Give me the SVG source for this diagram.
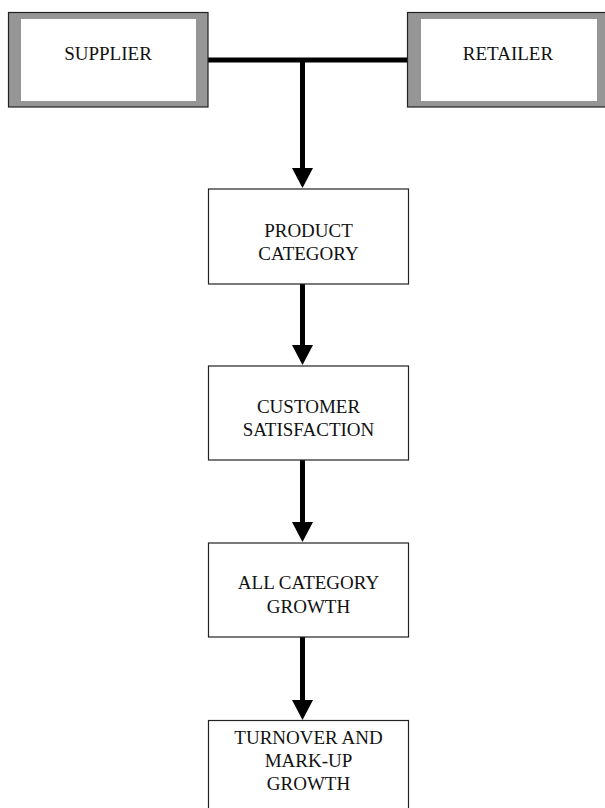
<svg xmlns="http://www.w3.org/2000/svg" width="605" height="808" viewBox="0 0 605 808">
<style>
text{font-family:"Liberation Serif","Times New Roman",serif;font-size:19px;fill:#111;text-anchor:middle}
.frame{fill:#969696;stroke:#222;stroke-width:1.2}
.inner{fill:#fff;stroke:none}
.box{fill:#fff;stroke:#222;stroke-width:1.2}
.line{stroke:#000;stroke-width:5;fill:none}
</style>
<defs>
<marker id="ah" markerUnits="userSpaceOnUse" markerWidth="22" markerHeight="21" refX="11" refY="20" orient="auto" viewBox="0 0 22 21">
<path d="M0,0 L22,0 L11,21 Z" fill="#000" transform="rotate(0)"/>
</marker>
</defs>
<rect width="605" height="808" fill="#fff"/>
<g id="connectors">
<path class="line" d="M208,60 H407"/>
<path d="M302.5,60 V170" class="line"/>
<path d="M292,168 L313,168 L302.5,188 Z" fill="#000"/>
<path d="M302.5,284 V347" class="line"/>
<path d="M292,345 L313,345 L302.5,365 Z" fill="#000"/>
<path d="M302.5,460 V524" class="line"/>
<path d="M292,522 L313,522 L302.5,542 Z" fill="#000"/>
<path d="M302.5,637 V702" class="line"/>
<path d="M292,700 L313,700 L302.5,720 Z" fill="#000"/>
</g>
<g id="supplier">
<rect class="frame" x="8.5" y="12.5" width="199.5" height="94.5"/>
<rect class="inner" x="21" y="19" width="175" height="82"/>
<text x="108" y="60">SUPPLIER</text>
</g>
<g id="retailer">
<rect class="frame" x="407.5" y="12.5" width="200" height="94.5"/>
<rect class="inner" x="421" y="19" width="176" height="82"/>
<text x="508" y="60">RETAILER</text>
</g>
<g id="product-category">
<rect class="box" x="208.5" y="189" width="200" height="95"/>
<text x="308.5" y="237">PRODUCT</text>
<text x="308.5" y="260">CATEGORY</text>
</g>
<g id="customer-satisfaction">
<rect class="box" x="208.5" y="366" width="200" height="94"/>
<text x="308.5" y="413">CUSTOMER</text>
<text x="308.5" y="436">SATISFACTION</text>
</g>
<g id="all-category-growth">
<rect class="box" x="208.5" y="543" width="200" height="94"/>
<text x="308.5" y="589">ALL CATEGORY</text>
<text x="308.5" y="612.5">GROWTH</text>
</g>
<g id="turnover">
<rect class="box" x="208.5" y="720.5" width="200" height="100"/>
<text x="308.5" y="744">TURNOVER AND</text>
<text x="308.5" y="767">MARK-UP</text>
<text x="308.5" y="789.5">GROWTH</text>
</g>
</svg>
